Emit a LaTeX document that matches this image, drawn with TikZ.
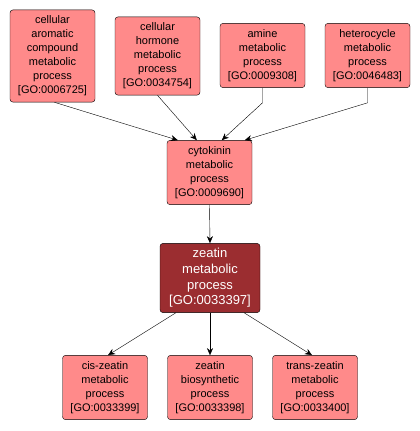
\documentclass[tikz,border=0pt]{standalone}
\usepackage{fontspec}
\setmainfont{Liberation Sans}
\definecolor{termpink}{RGB}{255,138,138}
\definecolor{rootred}{RGB}{155,45,48}
\usetikzlibrary{calc, arrows.meta}

\begin{document}
\begin{tikzpicture}[x=1pt, y=-1pt,
    term/.style={draw=black, fill=termpink, rounded corners=3pt,
      minimum width=85pt, inner xsep=2pt, inner ysep=6pt,
      font=\fontsize{11}{14}\selectfont, align=center},
    root/.style={term, fill=rootred, text=white, minimum width=100pt,
      inner ysep=5pt, font=\fontsize{13}{15.7}\selectfont},
    arrow/.style={-{Stealth[length=7pt, width=6pt]}, black},
  ]
    \useasboundingbox (0,0) rectangle (420,431);
    % top row
    \node[term] (aromatic) at (52.5, 56) {cellular\\aromatic\\compound\\metabolic\\process\\{[GO:0006725]}};
    \node[term] (hormone) at (157.5, 56) {cellular\\hormone\\metabolic\\process\\{[GO:0034754]}};
    \node[term] (amine) at (262.5, 55.5) {amine\\metabolic\\process\\{[GO:0009308]}};
    \node[term] (hetero) at (367.5, 55.5) {heterocycle\\metabolic\\process\\{[GO:0046483]}};
    % middle
    \node[term] (cytokinin) at (209.5, 172.5) {cytokinin\\metabolic\\process\\{[GO:0009690]}};
    \node[root] (zeatin) at (210, 278) {zeatin\\metabolic\\process\\{[GO:0033397]}};
    % bottom row
    \node[term] (cis) at (105, 387.5) {cis-zeatin\\metabolic\\process\\{[GO:0033399]}};
    \node[term] (biosyn) at (210, 387.5) {zeatin\\biosynthetic\\process\\{[GO:0033398]}};
    \node[term] (trans) at (315, 387.5) {trans-zeatin\\metabolic\\process\\{[GO:0033400]}};
    % edges
    \draw[arrow] ($(aromatic.south)+(2,0)$) -- ($(cytokinin.north west)+(11,0)$);
    \draw[arrow] (hormone.south) -- ($(cytokinin.north west)+(30,0)$);
    \draw[arrow] (amine.south) -- ++(0,15) -- ($(cytokinin.north west)+(55,0)$);
    \draw[arrow] (hetero.south) -- ++(0,15) -- ($(cytokinin.north west)+(78,0)$);
    \draw[arrow] (cytokinin.south) -- (zeatin.north);
    \draw[arrow] ($(zeatin.south west)+(16,0)$) -- ($(cis.north)+(3,0)$);
    \draw[arrow] (zeatin.south) -- (biosyn.north);
    \draw[arrow] ($(zeatin.south east)+(-16,0)$) -- ($(trans.north)+(-3,0)$);
  \end{tikzpicture}
\end{document}
